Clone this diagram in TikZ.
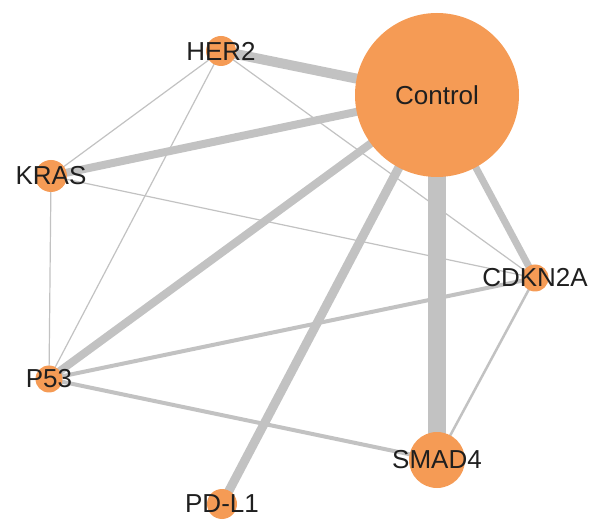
\documentclass[tikz,border=0pt]{standalone}
\usepackage{fontspec}
\setmainfont{Liberation Sans}
\usepackage{xcolor}
\usetikzlibrary{backgrounds}
\definecolor{geneorange}{RGB}{245,155,85}
\definecolor{linkgray}{RGB}{194,194,194}

\begin{document}
\begin{tikzpicture}[x=1pt, y=1pt,
    gene/.style={circle, fill=geneorange, inner sep=0pt},
    genelbl/.style={font=\fontsize{26}{28}\selectfont, text=black!88, inner sep=0pt},
    link/.style={draw=linkgray}]
    \useasboundingbox (0,0) rectangle (592,520);

    % Узлы сети
    \node[gene, minimum size=164pt, label={[genelbl]center:Control}] (ctrl) at (437,425) {};
    \node[gene, minimum size=30pt, label={[genelbl]center:HER2}] (her2) at (221,469) {};
    \node[gene, minimum size=32pt, label={[genelbl]center:KRAS}] (kras) at (51,344) {};
    \node[gene, minimum size=27pt, label={[genelbl]center:CDKN2A}] (cdkn) at (535,242) {};
    \node[gene, minimum size=27pt, label={[genelbl]center:P53}] (p53) at (49,141) {};
    \node[gene, minimum size=56pt, label={[genelbl]center:SMAD4}] (smad) at (437,60) {};
    \node[gene, minimum size=30pt, label={[genelbl]center:PD-L1}] (pdl1) at (222,16) {};

    % Связи
    \begin{scope}[on background layer]
        \draw[link, line width=18pt] (ctrl.center) -- (smad.center);
        \draw[link, line width=10pt] (ctrl.center) -- (her2.center);
        \draw[link, line width=8pt] (ctrl.center) -- (kras.center);
        \draw[link, line width=8pt] (ctrl.center) -- (p53.center);
        \draw[link, line width=9pt] (ctrl.center) -- (pdl1.center);
        \draw[link, line width=7pt] (ctrl.center) -- (cdkn.center);
        \draw[link, line width=4pt] (p53.center) -- (cdkn.center);
        \draw[link, line width=4pt] (p53.center) -- (smad.center);
        \draw[link, line width=2.5pt] (cdkn.center) -- (smad.center);
        \draw[link, line width=1.2pt] (her2.center) -- (kras.center);
        \draw[link, line width=1.2pt] (her2.center) -- (p53.center);
        \draw[link, line width=1.2pt] (her2.center) -- (cdkn.center);
        \draw[link, line width=1.2pt] (kras.center) -- (p53.center);
        \draw[link, line width=1.2pt] (kras.center) -- (cdkn.center);
    \end{scope}
\end{tikzpicture}
\end{document}
